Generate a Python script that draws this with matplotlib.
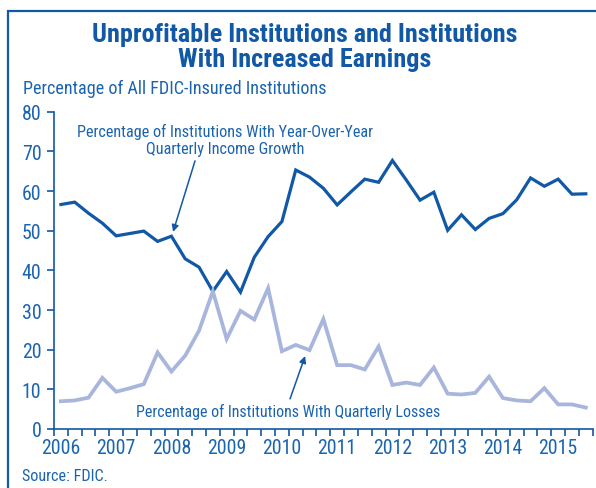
#!/usr/bin/env python3
"""Unprofitable institutions vs. institutions with increased earnings (FDIC)."""

import matplotlib
matplotlib.use('Agg')
import matplotlib.pyplot as plt
from matplotlib import font_manager
from matplotlib.patches import Rectangle

# quarterly values, 2006Q1 .. 2015Q3
years = ['2006', '2007', '2008', '2009', '2010', '2011', '2012', '2013', '2014', '2015']
income_growth = [56.6, 57.2, 54.4, 51.9, 48.7, 49.3, 49.9, 47.3, 48.6, 42.9,
                 40.8, 34.7, 39.7, 34.5, 43.3, 48.5, 52.3, 65.3, 63.5, 60.7,
                 56.5, 59.8, 63.0, 62.2, 67.7, 62.8, 57.7, 59.7, 50.1, 54.0,
                 50.3, 53.1, 54.3, 57.8, 63.3, 61.2, 63.0, 59.2, 59.3]
quarterly_losses = [7.0, 7.2, 7.9, 12.9, 9.4, 10.3, 11.3, 19.3, 14.5, 18.5,
                    24.8, 34.7, 22.7, 29.8, 27.6, 35.5, 19.6, 21.2, 19.9, 27.7,
                    16.1, 16.1, 15.0, 20.8, 11.1, 11.7, 11.1, 15.5, 8.9, 8.7,
                    9.1, 13.2, 7.8, 7.2, 7.0, 10.3, 6.2, 6.2, 5.4]

DARK = '#1158a6'
LIGHT = '#a8b5dc'
TEXT = '#1a64b0'

# prefer a narrow sans if one is around, else Liberation Sans
installed = {f.name for f in font_manager.fontManager.ttflist}
family = 'DejaVu Sans'
for name in ['Liberation Sans Narrow', 'Roboto Condensed', 'Liberation Sans', 'Roboto']:
    if name in installed:
        family = name
        break
plt.rcParams.update({'font.family': family, 'font.size': 12})

fig = plt.figure(figsize=(5.96, 4.89), dpi=100)
W, H = 596, 489

# outer frame (runs off the right and bottom edges)
fig.patches.append(Rectangle((7.6 / W, -0.1), 1.2, 1 - 12.3 / H + 0.1,
                             transform=fig.transFigure, fill=False,
                             edgecolor=DARK, linewidth=1.6))

ax = fig.add_axes([54 / W, 1 - 430 / H, (592.7 - 54) / W, (430 - 112.7) / H])
x = list(range(len(income_growth)))
ax.plot(x, income_growth, color=DARK, linewidth=2.3, solid_joinstyle='miter')
ax.plot(x, quarterly_losses, color=LIGHT, linewidth=2.7, solid_joinstyle='miter')

ax.set_xlim(-0.5, len(x) - 0.5)
ax.set_ylim(0, 80)
ax.set_yticks(range(0, 81, 10))
ax.set_xticks([i - 0.5 for i in range(len(x) + 1)])
ax.set_xticklabels([])
ax.set_xticks([4 * i for i in range(len(years))], minor=True)
ax.set_xticklabels(years, minor=True)
ax.tick_params(axis='x', which='major', direction='out', length=5, width=1.2, color=DARK)
ax.tick_params(axis='x', which='minor', length=0, pad=6.5, labelcolor=TEXT, labelsize=14.3)
ax.tick_params(axis='y', direction='out', length=5, width=1.2, color=DARK, pad=4,
               labelcolor=TEXT, labelsize=14.3)
for s in ('top', 'right'):
    ax.spines[s].set_visible(False)
for s in ('left', 'bottom'):
    ax.spines[s].set_color(DARK)
    ax.spines[s].set_linewidth(1.2)

# annotations: labels and arrows
t_growth = ax.text(11.88, 72.9, 'Percentage of Institutions With Year-Over-Year\nQuarterly Income Growth',
                   ha='center', va='center', color=TEXT, fontsize=11, linespacing=1.15)
t_losses = ax.text(16.48, 4.5, 'Percentage of Institutions With Quarterly Losses',
                   ha='center', va='center', color=TEXT, fontsize=11)
arrow = dict(arrowstyle='-|>', color=DARK, lw=1.1, mutation_scale=10, shrinkA=0, shrinkB=0)
ax.annotate('', xy=(8.12, 49.7), xytext=(9.71, 67.6), arrowprops=arrow)
ax.annotate('', xy=(17.68, 18.4), xytext=(16.59, 7.6), arrowprops=arrow)

title = fig.text(305 / W, 1 - 47.5 / H, 'Unprofitable Institutions and Institutions\nWith Increased Earnings',
                 ha='center', va='center', color=DARK, fontsize=17, fontweight='bold',
                 linespacing=1.1)
subtitle = fig.text(23 / W, 1 - 89 / H, 'Percentage of All FDIC-Insured Institutions',
                    ha='left', va='center', color=TEXT, fontsize=12)
source = fig.text(21.5 / W, 1 - 476.5 / H, 'Source: FDIC.', ha='left', va='center',
                  color=TEXT, fontsize=11)

# size each text block to the width it has in the original
renderer = fig.canvas.get_renderer()
for t, width_px in [(title, 425), (subtitle, 303), (t_growth, 295),
                    (t_losses, 305), (source, 86)]:
    w = t.get_window_extent(renderer).width
    t.set_fontsize(t.get_fontsize() * width_px / w)

fig.savefig('out.png', dpi=100)
